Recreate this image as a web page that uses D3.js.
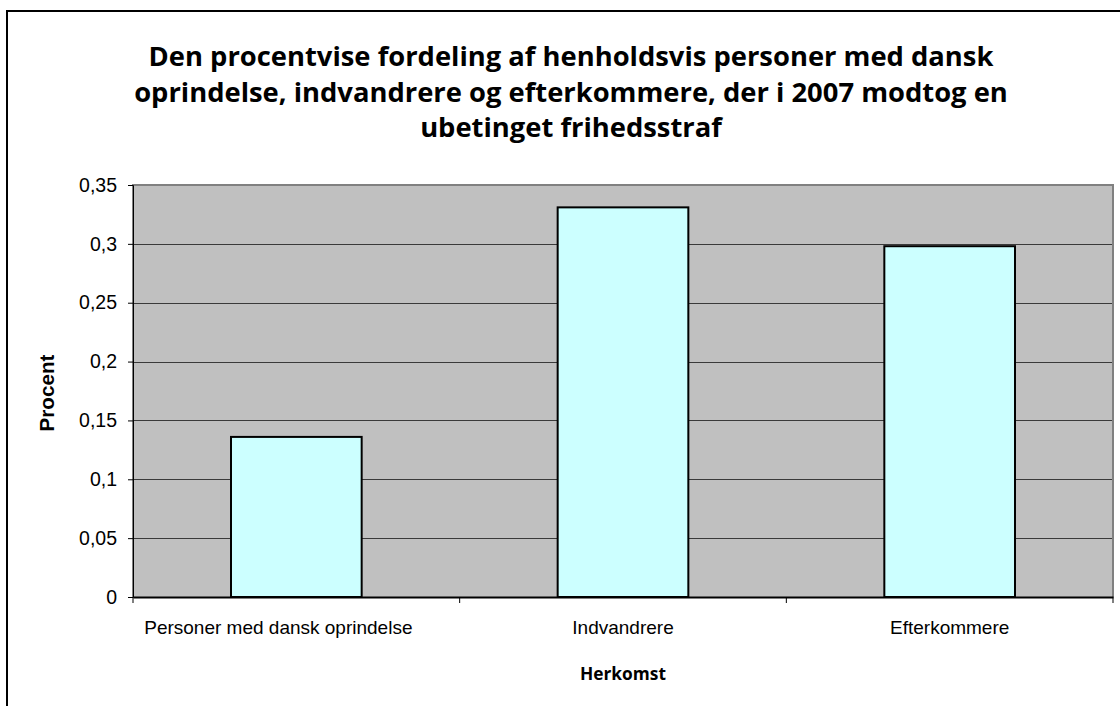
<!DOCTYPE html>
<html>
<head>
<meta charset="utf-8">
<script src="https://cdn.jsdelivr.net/npm/d3@7"></script>
<style>
  html, body { margin: 0; padding: 0; background: #fff; }
  svg { display: block; }
</style>
</head>
<body>
<svg id="chart" width="1120" height="706"></svg>
<script>
const categories = ["Personer med dansk oprindelse", "Indvandrere", "Efterkommere"];
const values = [0.136, 0.331, 0.298];
const yTicks = [0, 0.05, 0.1, 0.15, 0.2, 0.25, 0.3, 0.35];
const yTickLabels = ["0", "0,05", "0,1", "0,15", "0,2", "0,25", "0,3", "0,35"];
const titleLines = [
  "Den procentvise fordeling af henholdsvis personer med dansk",
  "oprindelse, indvandrere og efterkommere, der i 2007 modtog en",
  "ubetinget frihedsstraf"
];
const xTitle = "Herkomst";
const yTitle = "Procent";

const svg = d3.select("#chart");
const plot = { left: 133, right: 1113, top: 185, bottom: 597 };

// outer frame
svg.append("rect")
  .attr("x", 7).attr("y", 11)
  .attr("width", 1200).attr("height", 800)
  .attr("fill", "#fff").attr("stroke", "#000").attr("stroke-width", 2);

const x = d3.scaleBand()
  .domain(categories)
  .range([plot.left, plot.right])
  .paddingInner(0.6)
  .paddingOuter(0.3);

const y = d3.scaleLinear()
  .domain([0, 0.35])
  .range([plot.bottom, plot.top]);

// plot background
svg.append("rect")
  .attr("x", plot.left).attr("y", plot.top)
  .attr("width", plot.right - plot.left)
  .attr("height", plot.bottom - plot.top)
  .attr("fill", "#c0c0c0");

// gridlines
svg.append("g").selectAll("line")
  .data(yTicks.filter(d => d > 0 && d < 0.35))
  .join("line")
  .attr("x1", plot.left).attr("x2", plot.right)
  .attr("y1", d => Math.round(y(d)) + 0.5).attr("y2", d => Math.round(y(d)) + 0.5)
  .attr("stroke", "#3a3a3a").attr("stroke-width", 1);

// plot border (top, right, left) gray
svg.append("path")
  .attr("d", `M${plot.left},${plot.bottom} V${plot.top} H${plot.right} V${plot.bottom}`)
  .attr("fill", "none").attr("stroke", "#808080").attr("stroke-width", 2);

// bars
svg.append("g").selectAll("rect")
  .data(values)
  .join("rect")
  .attr("x", (d, i) => x(categories[i]))
  .attr("y", d => y(d))
  .attr("width", x.bandwidth())
  .attr("height", d => plot.bottom - y(d))
  .attr("fill", "#ccffff")
  .attr("stroke", "#000").attr("stroke-width", 2);

// y axis
const yAxis = d3.axisLeft(y)
  .tickValues(yTicks)
  .tickFormat((d, i) => yTickLabels[i])
  .tickSize(5)
  .tickPadding(11);
const gy = svg.append("g").attr("transform", `translate(${plot.left},0)`).call(yAxis);
gy.attr("font-size", null).attr("font-family", null);
gy.select(".domain").attr("stroke", "#000").attr("stroke-width", 1);
gy.selectAll(".tick line").attr("stroke", "#000");
gy.selectAll(".tick text")
  .style("font-family", "'Liberation Sans', Arial, sans-serif")
  .style("font-size", "19.5px").attr("fill", "#000");

// x axis
const xAxis = d3.axisBottom(x).tickSize(0).tickPadding(24);
const gx = svg.append("g").attr("transform", `translate(0,${plot.bottom})`).call(xAxis);
gx.attr("font-size", null).attr("font-family", null);
gx.select(".domain").attr("stroke", "#000").attr("stroke-width", 2);
gx.selectAll(".tick text")
  .style("font-family", "'Liberation Sans', Arial, sans-serif")
  .style("font-size", "19px").attr("fill", "#000")
  .attr("dx", (d, i) => i === 0 ? -18 : 0);
// category boundary ticks
const bounds = d3.range(categories.length + 1).map(i => plot.left + i * (plot.right - plot.left) / categories.length);
svg.append("g").selectAll("line")
  .data(bounds)
  .join("line")
  .attr("x1", d => d).attr("x2", d => d)
  .attr("y1", plot.bottom).attr("y2", plot.bottom + 6)
  .attr("stroke", "#000").attr("stroke-width", 1);

// helper to fit text width
function fit(sel, target, base) {
  const w = sel.node().getComputedTextLength();
  sel.style("font-size", (base * target / w) + "px");
}

// title
const titleFont = "'Open Sans', Lato, sans-serif";
const title = svg.append("text")
  .attr("text-anchor", "middle")
  .style("font-family", titleFont)
  .attr("font-weight", "bold")
  .style("font-size", "24px")
  .attr("fill", "#000");
titleLines.forEach((t, i) => {
  title.append("tspan").attr("x", 571).attr("y", 66 + i * 35.5).text(t);
});
{
  const w = title.select("tspan").node().getComputedTextLength();
  title.style("font-size", (24 * 845 / w) + "px");
}

// axis titles
const xt = svg.append("text")
  .attr("x", 623).attr("y", 680)
  .attr("text-anchor", "middle")
  .style("font-family", titleFont)
  .attr("font-weight", "bold").style("font-size", "16px")
  .attr("fill", "#000")
  .text(xTitle);
fit(xt, 86, 16);

const yt = svg.append("text")
  .attr("transform", `translate(54,393) rotate(-90)`)
  .attr("text-anchor", "middle")
  .style("font-family", "'Liberation Sans', Arial, sans-serif")
  .attr("font-weight", "bold").style("font-size", "18px")
  .attr("fill", "#000")
  .text(yTitle);
fit(yt, 77, 18);
</script>
</body>
</html>
